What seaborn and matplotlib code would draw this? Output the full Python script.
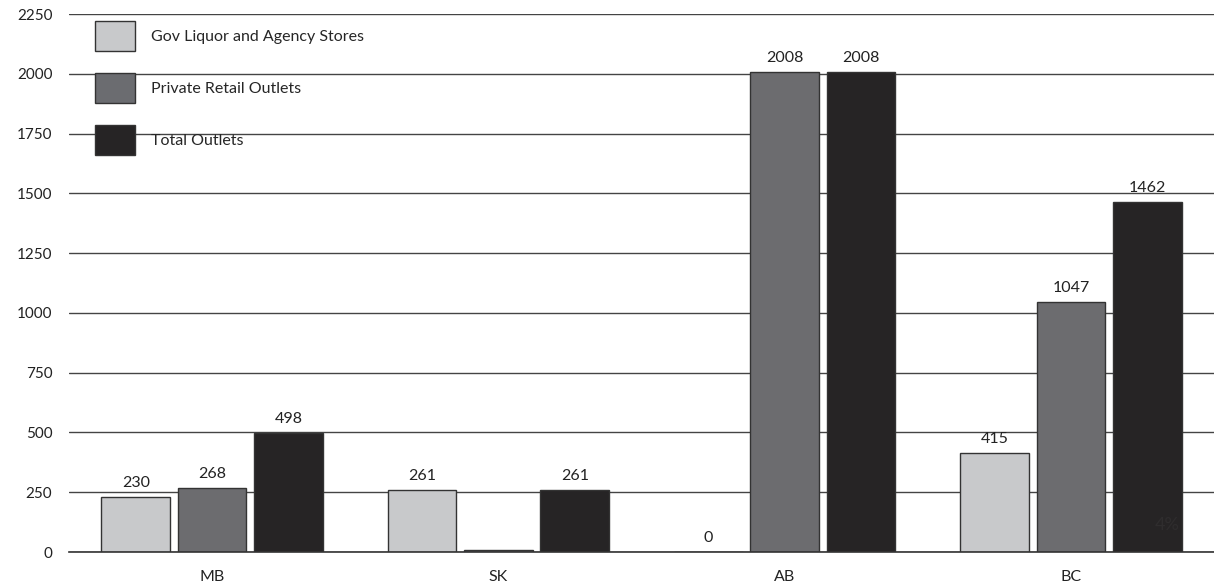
import matplotlib
matplotlib.use("Agg")
import matplotlib.pyplot as plt
from matplotlib.patches import Patch
import pandas as pd
import seaborn as sns

provinces = ["MB", "SK", "AB", "BC"]
series = ["Gov Liquor and Agency Stores", "Private Retail Outlets", "Total Outlets"]
gov_stores = [230, 261, 0, 415]
private_outlets = [268, 10, 2008, 1047]
total_outlets = [498, 261, 2008, 1462]
# value labels shown above each bar (blank where none is printed)
gov_labels = ["230", "261", "0", "415"]
private_labels = ["268", "", "2008", "1047"]
total_labels = ["498", "261", "2008", "1462"]
y_ticks = [0, 250, 500, 750, 1000, 1250, 1500, 1750, 2000, 2250]

colors = ["#c8c9cb", "#6b6c70", "#262425"]

df = pd.DataFrame({
    "Province": provinces * 3,
    "Series": [series[0]] * 4 + [series[1]] * 4 + [series[2]] * 4,
    "Outlets": gov_stores + private_outlets + total_outlets,
})

sns.set_style("white")
plt.rcParams["font.family"] = ["Lato", "DejaVu Sans"]

fig = plt.figure(figsize=(12.14, 5.86), dpi=100)
ax = fig.add_axes([69 / 1214, 1 - 552 / 586, 1 - 69 / 1214, (552 - 14) / 586])

sns.barplot(
    data=df, x="Province", y="Outlets", hue="Series",
    order=provinces, hue_order=series, palette=colors,
    width=0.8, gap=0.1, edgecolor="#333333", linewidth=1,
    legend=False, ax=ax, zorder=3,
)

ax.set_ylim(0, 2250)
ax.set_xlim(-0.5, 3.5)
ax.set_yticks(y_ticks)
ax.set_yticklabels([str(v) for v in y_ticks], fontsize=11, color="#222222")
ax.tick_params(axis="x", labelsize=11.5, colors="#222222", length=0, pad=13)
ax.tick_params(axis="y", length=0, pad=12)
ax.set_xlabel("")
ax.set_ylabel("")
for side in ["left", "right", "top"]:
    ax.spines[side].set_visible(False)
ax.spines["bottom"].set_color("#333333")
ax.spines["bottom"].set_linewidth(1.2)
ax.spines["bottom"].set_zorder(4)
ax.yaxis.grid(True, color="#444444", linewidth=1)
ax.set_axisbelow(True)

for container, labels in zip(ax.containers, [gov_labels, private_labels, total_labels]):
    ax.bar_label(container, labels=labels, padding=5, fontsize=11.5, color="#222222")

# faint annotation printed inside the BC total bar
ax.text(3.335, 115, "4%", fontsize=13, color="#2f2d2e", ha="center", va="center", zorder=5)

handles = [Patch(facecolor=c, edgecolor="#333333", linewidth=1) for c in colors]
fig.legend(
    handles, series, loc="upper left",
    bbox_to_anchor=(95 / 1214, 1 - 21 / 586), frameon=False,
    fontsize=11.5, handlelength=2.5, handleheight=2.5,
    labelspacing=1.4, handletextpad=1.0, borderpad=0, borderaxespad=0,
)

fig.savefig("out.png", dpi=100, facecolor="white")
